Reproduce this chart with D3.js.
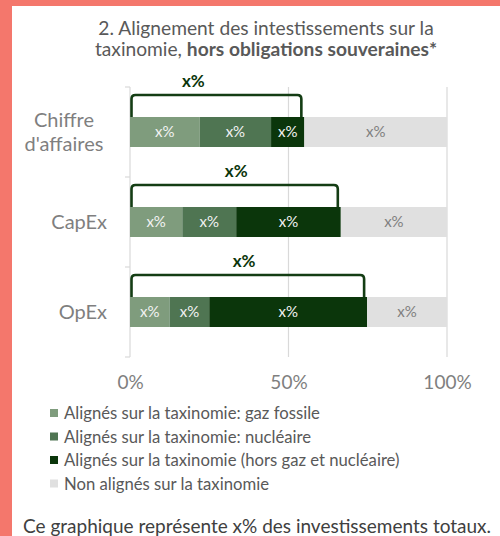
<!DOCTYPE html>
<html><head><meta charset="utf-8">
<script src="https://cdn.jsdelivr.net/npm/d3@7"></script>
<style>
html,body{margin:0;padding:0;background:#f4776c;}
svg{display:block;}
text{font-family:Lato,"Open Sans",sans-serif;}
</style></head>
<body>
<svg id="c" width="500" height="536"></svg>
<script>
const categories = ["Chiffre d'affaires", "CapEx", "OpEx"];
const categoryLines = [["Chiffre", "d'affaires"], ["CapEx"], ["OpEx"]];
const seriesNames = [
  "Alignés sur la taxinomie: gaz fossile",
  "Alignés sur la taxinomie: nucléaire",
  "Alignés sur la taxinomie (hors gaz et nucléaire)",
  "Non alignés sur la taxinomie"
];
const gazFossile = [22, 16.5, 12.5];
const nucleaire = [22.5, 17, 12.5];
const horsGazNucleaire = [10.5, 33, 49.8];
const nonAlignes = [45, 33.5, 25.2];
const segmentLabels = ["x%", "x%", "x%", "x%"];
const bracketLabels = ["x%", "x%", "x%"];
const bracketLabelAt = [20, 33.5, 36];
const xTicks = [0, 50, 100];
const titleLine1 = "2. Alignement des intestissements sur la";
const titleLine2a = "taxinomie, ";
const titleLine2b = "hors obligations souveraines*";
const footer = "Ce graphique représente x% des investissements totaux.";
const colors = ["#7f9c7d", "#4f7552", "#0b360b", "#e0e0e0"];

const svg = d3.select("#c");
svg.append("rect").attr("x", 12).attr("y", 6).attr("width", 488).attr("height", 530).attr("fill", "#fff");

const x = d3.scaleLinear().domain([0, 100]).range([130, 447]);
const y = d3.scaleBand().domain(categories).range([87, 357]).paddingInner(0).paddingOuter(0);
const barH = 30;

// Title
const t = svg.append("text").attr("text-anchor", "middle").attr("fill", "#595959").attr("font-size", 19.2);
t.append("tspan").attr("x", 266).attr("y", 35).text(titleLine1);
const t2 = t.append("tspan").attr("x", 266).attr("y", 56);
t2.append("tspan").text(titleLine2a);
t2.append("tspan").attr("font-weight", "bold").text(titleLine2b);

// gridlines
svg.append("g").selectAll("line").data(xTicks).join("line")
  .attr("x1", d => x(d)).attr("x2", d => x(d))
  .attr("y1", 87).attr("y2", 357)
  .attr("stroke", "#d9d9d9").attr("stroke-width", 1.2);

// y axis ticks
svg.append("g").selectAll("line").data([0, 1, 2, 3]).join("line")
  .attr("x1", 125).attr("x2", 130)
  .attr("y1", i => 87 + i * y.step()).attr("y2", i => 87 + i * y.step())
  .attr("stroke", "#d9d9d9").attr("stroke-width", 1.2);

// x axis labels
const xAxis = d3.axisBottom(x).tickValues(xTicks).tickFormat(d => d + "%").tickSize(0).tickPadding(0);
const xg = svg.append("g").attr("transform", "translate(0,375)").call(xAxis);
xg.select(".domain").remove();
xg.selectAll("text").attr("font-size", 19).attr("fill", "#7f7f7f").attr("font-family", "Lato,sans-serif").attr("dy", "0.71em");

// stacked data
const table = categories.map((c, i) => ({
  cat: c, s0: gazFossile[i], s1: nucleaire[i], s2: horsGazNucleaire[i], s3: nonAlignes[i]
}));
const stack = d3.stack().keys(["s0", "s1", "s2", "s3"])(table);

stack.forEach((layer, k) => {
  const g = svg.append("g");
  g.selectAll("rect").data(layer).join("rect")
    .attr("x", d => x(d[0])).attr("width", d => x(d[1]) - x(d[0]))
    .attr("y", d => y(d.data.cat) + (y.bandwidth() - barH) / 2)
    .attr("height", barH).attr("fill", colors[k]);
  g.selectAll("text").data(layer).join("text")
    .attr("x", d => (x(d[0]) + x(d[1])) / 2)
    .attr("y", d => y(d.data.cat) + y.bandwidth() / 2 + 5)
    .attr("text-anchor", "middle").attr("font-size", 15)
    .attr("fill", k === 3 ? "#7f7f7f" : "#f2f2f2")
    .text(segmentLabels[k]);
});

// brackets
table.forEach((d, i) => {
  const aligned = d.s0 + d.s1 + d.s2;
  const x0 = x(0) + 1.5, x1 = x(aligned) - 3;
  const barTop = y(d.cat) + (y.bandwidth() - barH) / 2;
  const top = barTop - 22, r = 4;
  const p = d3.path();
  p.moveTo(x0, barTop);
  p.lineTo(x0, top + r);
  p.quadraticCurveTo(x0, top, x0 + r, top);
  p.lineTo(x1 - r, top);
  p.quadraticCurveTo(x1, top, x1, top + r);
  p.lineTo(x1, barTop);
  svg.append("path").attr("d", p.toString()).attr("fill", "none")
    .attr("stroke", "#143d14").attr("stroke-width", 2.6);
  svg.append("text").attr("x", x(bracketLabelAt[i])).attr("y", top - 8)
    .attr("text-anchor", "middle").attr("font-weight", "bold").attr("font-size", 17)
    .attr("fill", "#0b360b").text(bracketLabels[i]);
});

// category labels
categoryLines.forEach((lines, i) => {
  const cy = y(categories[i]) + y.bandwidth() / 2;
  const txt = svg.append("text").attr("text-anchor", "middle").attr("font-size", 20).attr("fill", "#7f7f7f");
  const n = lines.length;
  lines.forEach((l, j) => {
    txt.append("tspan").attr("x", n > 1 ? 64 : 107).attr("y", cy + 7 + (j - (n - 1) / 2) * 24).text(l);
  });
  if (n === 1) txt.attr("text-anchor", "end");
});

// legend
const lg = svg.append("g");
seriesNames.forEach((s, i) => {
  const ly = 419 + i * 23.5;
  lg.append("rect").attr("x", 50).attr("y", ly - 10).attr("width", 8).attr("height", 8).attr("fill", colors[i]);
  lg.append("text").attr("x", 64).attr("y", ly).attr("font-size", 16.7).attr("fill", "#595959").text(s);
});

// footer
svg.append("text").attr("x", 23).attr("y", 533).attr("font-size", 19).attr("fill", "#404040").text(footer);
</script>
</body></html>
